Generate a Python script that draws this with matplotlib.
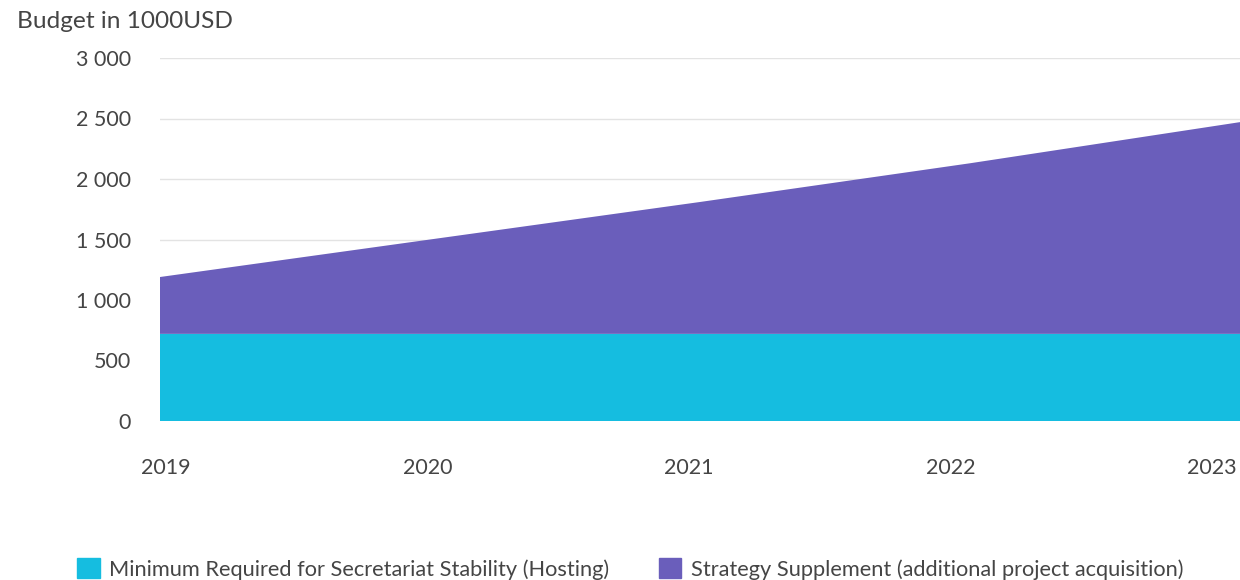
import matplotlib
matplotlib.use('Agg')
import matplotlib.pyplot as plt
from matplotlib.patches import Patch

years = ['2019', '2020', '2021', '2022', '2023']
hosting = [720, 720, 720, 720, 720]
supplement = [470, 780, 1090, 1410, 1750]
y_ticks = [0, 500, 1000, 1500, 2000, 2500, 3000]
y_labels = ['0', '500', '1 000', '1 500', '2 000', '2 500', '3 000']

cyan = '#15BDE0'
purple = '#6A5EBB'
text_col = '#454545'

plt.rcParams['font.family'] = ['Lato', 'DejaVu Sans']

fig = plt.figure(figsize=(12.4, 5.8), dpi=100)
ax = fig.add_axes([160 / 1240, 1 - 421 / 580, 1080 / 1240, 363 / 580])

x = list(range(len(years)))
ax.stackplot(x, hosting, supplement, colors=[cyan, purple], linewidth=0)

ax.set_xlim(0, len(years) - 1)
ax.set_ylim(0, 3000)
ax.set_yticks(y_ticks)
ax.set_yticklabels(y_labels)
# labels sit slightly inside the area edges in the reference
ax.set_xticks([0.022 + i * 0.9685 for i in x])
ax.set_xticklabels(years)
ax.grid(axis='y', color='#e3e3e3', linewidth=1)
ax.set_axisbelow(True)
for s in ax.spines.values():
    s.set_visible(False)
ax.tick_params(axis='y', length=0, pad=21, labelsize=15.5, labelcolor=text_col)
ax.tick_params(axis='x', length=0, pad=27, labelsize=15.5, labelcolor=text_col)

fig.text(17 / 1240, 1 - 22 / 580, 'Budget in 1000USD', fontsize=17.6, color=text_col,
         ha='left', va='center')

handles = [Patch(color=cyan), Patch(color=purple)]
labels = ['Minimum Required for Secretariat Stability (Hosting)',
          'Strategy Supplement (additional project acquisition)']
fig.legend(handles, labels, loc='center left', bbox_to_anchor=(57 / 1240, 1 - 569 / 580),
           ncol=2, frameon=False, fontsize=15.7, labelcolor=text_col,
           handlelength=1.05, handleheight=1.05, handletextpad=0.45, columnspacing=2.25)

fig.savefig('out.png', dpi=100)
